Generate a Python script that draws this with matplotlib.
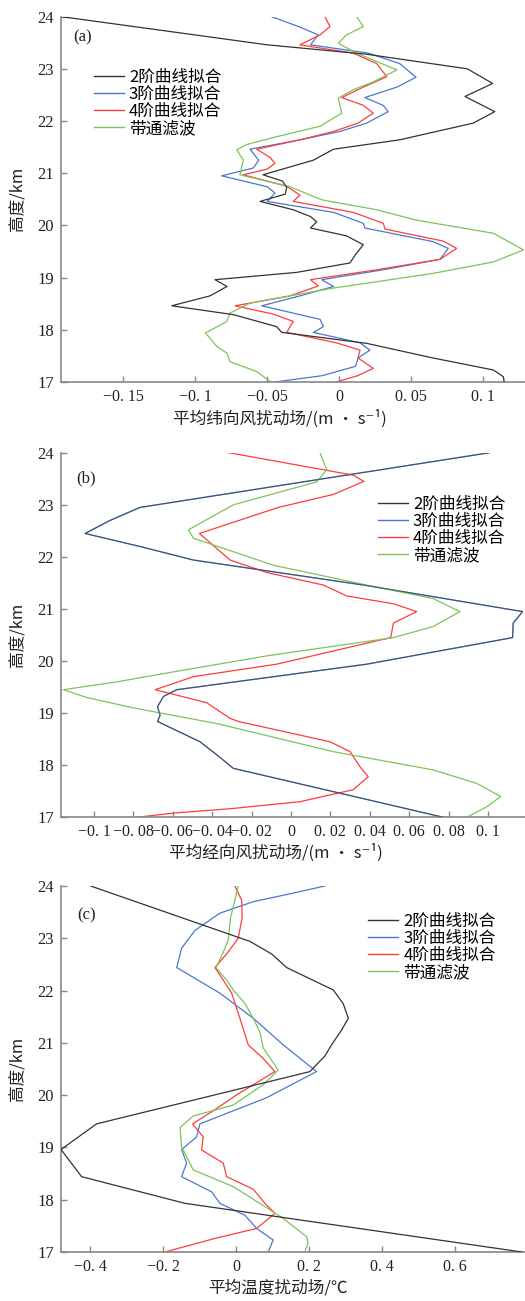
import numpy as np
from matplotlib import pyplot as plt

plt.rcParams['font.family'] = ['Noto Sans CJK SC', 'DejaVu Sans']

labels = ['2阶曲线拟合', '3阶曲线拟合', '4阶曲线拟合', '带通滤波']
colors = ['#333333', '#4a78cc', '#ff3c3c', '#7cc45a']

# (a) zonal wind
a2_h = [24.0, 23.46, 23.28, 23.0, 22.72, 22.47, 22.18, 21.96, 21.64, 21.46, 21.25, 20.97, 20.85, 20.73,
        20.6, 20.46, 20.3, 20.17, 20.07, 19.95, 19.8, 19.63, 19.45, 19.28, 19.1, 18.96, 18.83, 18.65,
        18.46, 18.29, 18.06, 17.95, 17.74, 17.46, 17.23, 17.1, 17.0]
a2_v = [-0.193, -0.050, 0.019, 0.089, 0.1065, 0.0873, 0.108, 0.093, 0.042, -0.004, -0.018, -0.053, -0.0395,
        -0.0365, -0.0375, -0.055, -0.032, -0.020, -0.0157, -0.020, 0.005, 0.0167, 0.0115, 0.0074, -0.0296,
        -0.0863, -0.078, -0.0898, -0.1164, -0.0736, -0.0435, -0.040, 0.019, 0.065, 0.107, 0.114, 0.1145]
a3_h = [24.0, 23.8, 23.65, 23.46, 23.3, 23.1, 22.84, 22.65, 22.45, 22.3, 22.18, 21.96, 21.8, 21.64, 21.46,
        21.25, 21.1, 20.95, 20.74, 20.62, 20.46, 20.25, 20.04, 19.95, 19.69, 19.56, 19.35, 19.15, 18.96,
        18.83, 18.65, 18.46, 18.2, 18.06, 17.95, 17.75, 17.61, 17.46, 17.3, 17.12, 17.0]
a3_v = [-0.047, -0.0273, -0.0146, -0.020, 0.0204, 0.042, 0.0533, 0.040, 0.0178, 0.0305, 0.034, 0.019, 0.0005,
        -0.0273, -0.062, -0.056, -0.0597, -0.0817, -0.050, -0.0447, -0.050, -0.004, 0.0167, 0.0178, 0.065,
        0.0757, 0.070, 0.0306, -0.0122, -0.004, -0.0273, -0.0539, -0.0134, -0.011, -0.018, 0.0144, 0.0213,
        0.013, 0.0113, -0.012, -0.0447]
a4_h = [24.0, 23.81, 23.65, 23.46, 23.3, 23.1, 22.85, 22.65, 22.45, 22.3, 22.15, 21.96, 21.8, 21.64, 21.46,
        21.3, 21.19, 21.08, 20.97, 20.75, 20.58, 20.46, 20.25, 20.04, 19.93, 19.7, 19.56, 19.35, 19.15,
        18.96, 18.84, 18.65, 18.46, 18.3, 18.16, 17.95, 17.75, 17.61, 17.46, 17.26, 17.12, 17.0]
a4_v = [-0.010, -0.0065, -0.0134, -0.0273, 0.0097, 0.026, 0.033, 0.0167, 0.0017, 0.0167, 0.0236, 0.013,
        -0.004, -0.0273, -0.0574, -0.048, -0.0447, -0.050, -0.0667, -0.0365, -0.0273, -0.032, 0.0097, 0.0306,
        0.0317, 0.0722, 0.0815, 0.070, 0.026, -0.020, -0.0146, -0.0342, -0.0724, -0.0458, -0.032, -0.0365,
        -0.002, 0.0144, 0.013, 0.0236, 0.0127, -0.002]
abp_h = [24.0, 23.81, 23.65, 23.49, 23.3, 22.98, 22.75, 22.6, 22.44, 22.15, 21.9, 21.7, 21.55, 21.45, 21.25,
         20.97, 20.74, 20.49, 20.3, 20.1, 19.85, 19.53, 19.3, 19.08, 18.8, 18.51, 18.32, 18.16, 17.94, 17.68,
         17.55, 17.39, 17.2, 17.0]
abp_v = [0.012, 0.0167, 0.005, -0.0007, 0.012, 0.040, 0.0236, 0.0097, -0.0007, 0.0017, -0.0134, -0.0435,
         -0.0643, -0.0712, -0.0667, -0.069, -0.0342, -0.0122, 0.026, 0.0537, 0.107, 0.128, 0.107, 0.065,
         -0.004, -0.062, -0.076, -0.078, -0.093, -0.085, -0.078, -0.076, -0.0574, -0.0475]

# (b) meridional wind (2nd and 3rd order fits coincide)
b2_h = [24.0, 22.95, 22.7, 22.45, 22.2, 21.94, 21.46, 20.95, 20.73, 20.45, 19.94, 19.45, 19.32, 19.12,
        18.96, 18.84, 18.45, 18.2, 17.94, 17.0]
b2_v = [0.1007, -0.0767, -0.0919, -0.1046, -0.0767, -0.0496, 0.0367, 0.1176, 0.1128, 0.1125, 0.0384, -0.058,
        -0.0648, -0.0678, -0.0665, -0.0678, -0.0462, -0.0377, -0.0293, 0.0773]
b3_h = b2_h
b3_v = b2_v
b4_h = [24.0, 23.57, 23.45, 23.2, 22.95, 22.45, 21.94, 21.7, 21.46, 21.25, 21.1, 20.95, 20.73, 20.45, 19.94,
        19.7, 19.45, 19.2, 18.9, 18.84, 18.45, 18.26, 17.97, 17.78, 17.53, 17.3, 17.17, 17.08, 17.0]
b4_v = [-0.0315, 0.0316, 0.037, 0.0215, -0.0064, -0.0465, -0.031, -0.0123, 0.0164, 0.0283, 0.052, 0.0638,
        0.052, 0.0506, -0.0073, -0.0496, -0.069, -0.0428, -0.031, -0.0267, 0.0198, 0.030, 0.035, 0.0392,
        0.0316, 0.0046, -0.0293, -0.0597, -0.0783]
bbp_h = [24.0, 23.67, 23.44, 23.0, 22.52, 22.36, 21.84, 21.46, 21.2, 20.95, 20.66, 20.45, 20.1, 19.77, 19.6,
         19.45, 19.3, 19.1, 18.8, 18.26, 17.91, 17.65, 17.4, 17.2, 17.0]
bbp_v = [0.0147, 0.0181, 0.013, -0.0293, -0.0521, -0.0496, -0.009, 0.0384, 0.0722, 0.0858, 0.072, 0.052,
         -0.0123, -0.0631, -0.0885, -0.1156, -0.1037, -0.080, -0.0377, 0.0215, 0.0722, 0.0943, 0.1065, 0.0993,
         0.0892]

# (c) temperature
c2_h = [24.0, 22.94, 22.7, 22.44, 22.01, 21.75, 21.47, 21.25, 20.96, 20.75, 20.45, 19.45, 18.96, 18.44,
        17.93, 17.0]
c2_v = [-0.399, 0.0375, 0.097, 0.138, 0.266, 0.293, 0.307, 0.289, 0.261, 0.243, 0.2019, -0.3825, -0.48,
        -0.4236, -0.1405, 0.782]
c3_h = [24.0, 23.85, 23.7, 23.48, 23.15, 22.81, 22.44, 21.95, 21.47, 20.96, 20.45, 19.95, 19.45, 19.2, 18.96,
        18.7, 18.44, 18.15, 17.93, 17.7, 17.45, 17.23, 17.0]
c3_v = [0.243, 0.147, 0.0466, -0.0447, -0.113, -0.1496, -0.163, -0.0447, 0.0466, 0.129, 0.220, 0.0833,
        -0.0995, -0.1085, -0.1496, -0.136, -0.1496, -0.0674, -0.0447, 0.024, 0.0558, 0.101, 0.0877]
c4_h = [24.0, 23.73, 23.4, 23.0, 22.7, 22.44, 22.2, 21.95, 21.47, 20.96, 20.7, 20.45, 20.0, 19.7, 19.45,
        19.2, 18.95, 18.7, 18.44, 18.2, 17.93, 17.74, 17.45, 17.25, 17.0]
c4_v = [-0.0036, 0.0148, 0.0164, 0.0055, -0.0263, -0.0584, -0.0356, -0.0126, 0.010, 0.033, 0.074, 0.106,
        0.0, -0.063, -0.1195, -0.0904, -0.0948, -0.0356, -0.0263, 0.0466, 0.0786, 0.106, 0.0558, -0.063,
        -0.195]
cbp_h = [24.0, 23.73, 23.4, 22.97, 22.7, 22.44, 22.2, 22.01, 21.75, 21.47, 21.2, 20.9, 20.48, 20.2, 19.81,
         19.6, 19.38, 19.01, 18.57, 18.25, 17.95, 17.64, 17.29, 17.17, 17.0]
cbp_v = [0.0055, -0.0036, -0.0155, -0.0219, -0.0374, -0.0556, -0.0263, -0.008, 0.024, 0.0466, 0.065, 0.074,
         0.115, 0.074, -0.0082, -0.118, -0.154, -0.1496, -0.1178, -0.0082, 0.060, 0.129, 0.193, 0.197, 0.188]

xticks_a = [-0.15, -0.1, -0.05, 0, 0.05, 0.1]
xlabels_a = ['−0. 15', '−0. 1', '−0. 05', '0', '0. 05', '0. 1']
xticks_b = [-0.1, -0.08, -0.06, -0.04, -0.02, 0, 0.02, 0.04, 0.06, 0.08, 0.1]
xlabels_b = ['−0. 1', '−0. 08', '−0. 06', '−0. 04', '−0. 02', '0', '0. 02', '0. 04', '0. 06', '0. 08', '0. 1']
xticks_c = [-0.4, -0.2, 0, 0.2, 0.4, 0.6]
xlabels_c = ['−0. 4', '−0. 2', '0', '0. 2', '0. 4', '0. 6']

fig = plt.figure(figsize=(5.25, 13.01), dpi=100)
W = 0.8838
L = 0.1162
panels = [
    dict(rect=[L, 0.7064, W, 0.2808], data=[(a2_h, a2_v), (a3_h, a3_v), (a4_h, a4_v), (abp_h, abp_v)],
         xlim=(-0.1933, 0.129), ticks=xticks_a, tl=xlabels_a, tag='(a)', tagpos=(0.026, 0.944),
         xlabel='平均纬向风扰动场/(m • s⁻¹)', xlc=(0.472, -0.075), leg=(0.071, 0.857)),
    dict(rect=[L, 0.3718, W, 0.2802], data=[(b2_h, b2_v), (b3_h, b3_v), (b4_h, b4_v), (bbp_h, bbp_v)],
         xlim=(-0.1168, 0.1188), ticks=xticks_b, tl=xlabels_b, tag='(b)', tagpos=(0.032, 0.931),
         xlabel='平均经向风扰动场/(m • s⁻¹)', xlc=(0.463, -0.072), leg=(0.683, 0.881)),
    dict(rect=[L, 0.0377, W, 0.2813], data=[(c2_h, c2_v), (c3_h, c3_v), (c4_h, c4_v), (cbp_h, cbp_v)],
         xlim=(-0.480, 0.791), ticks=xticks_c, tl=xlabels_c, tag='(c)', tagpos=(0.034, 0.921),
         xlabel='平均温度扰动场/℃', xlc=(0.467, -0.075), leg=(0.662, 0.926)),
]

for i, p in enumerate(panels):
    ax = fig.add_axes(p['rect'])
    lines = []
    for k, (h, v) in enumerate(p['data']):
        lw = 0.9
        alpha = 1.0
        if i == 1 and k == 0:
            alpha = 0.55
        ln, = ax.plot(v, h, color=colors[k], lw=lw, alpha=alpha, zorder=3 if k == 0 else 2)
        lines.append(ln)
    ax.set_xlim(*p['xlim'])
    ax.set_ylim(17, 24)
    ax.set_yticks(range(17, 25))
    ax.set_yticklabels([str(t) for t in range(17, 25)], fontfamily='Liberation Serif', fontsize=12)
    ax.set_xticks(p['ticks'])
    ax.set_xticklabels(p['tl'], fontfamily='Liberation Serif', fontsize=11.5)
    for s in ['top', 'right']:
        ax.spines[s].set_visible(False)
    for s in ['left', 'bottom']:
        ax.spines[s].set_color('#888888')
        ax.spines[s].set_linewidth(1.2)
    ax.tick_params(direction='in', length=4, width=1, color='#888888', labelcolor='#222222', pad=5)
    ax.set_xlabel(p['xlabel'], fontsize=12, color='#222222')
    ax.xaxis.set_label_coords(*p['xlc'])
    ax.set_ylabel('高度/km', fontsize=12, color='#222222')
    ax.yaxis.set_label_coords(-0.075, 0.5)
    ax.text(p['tagpos'][0], p['tagpos'][1], p['tag'], transform=ax.transAxes, fontsize=12,
            fontfamily='Liberation Serif', va='center', ha='left', color='#222222')
    handles = [plt.Line2D([], [], color=c, lw=1.0) for c in colors]
    ax.legend(handles, labels, loc='upper left', bbox_to_anchor=p['leg'], frameon=False,
              borderaxespad=0, borderpad=0, handlelength=1.8, handletextpad=0.3,
              labelspacing=0.0, fontsize=12)

plt.savefig('out.png', dpi=100)
